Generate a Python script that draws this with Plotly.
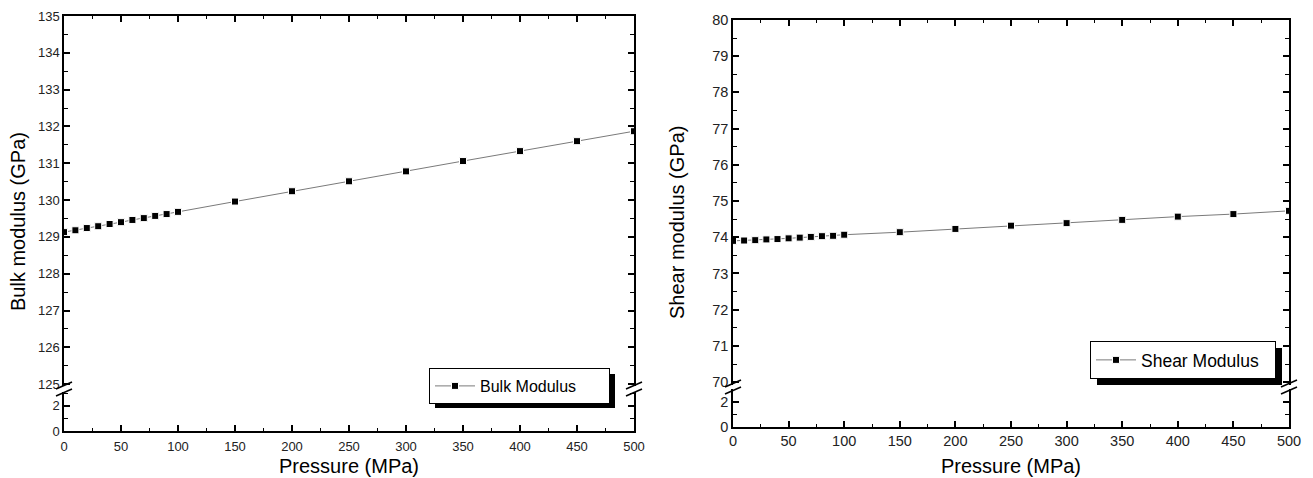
import plotly.graph_objects as go

# ---------------- data ----------------
pressure = [0, 10, 20, 30, 40, 50, 60, 70, 80, 90, 100,
            150, 200, 250, 300, 350, 400, 450, 500]
bulk_modulus = [129.13, 129.18, 129.24, 129.29, 129.35, 129.40, 129.46, 129.51,
                129.57, 129.62, 129.68, 129.96, 130.24, 130.51, 130.78, 131.06,
                131.33, 131.60, 131.87]
shear_modulus = [73.90, 73.91, 73.92, 73.94, 73.95, 73.97, 73.99, 74.01,
                 74.03, 74.04, 74.07, 74.14, 74.23, 74.32, 74.39, 74.48,
                 74.57, 74.64, 74.73]

x_ticks = [0, 50, 100, 150, 200, 250, 300, 350, 400, 450, 500]
bulk_ticks = list(range(125, 136))
shear_ticks = list(range(70, 81))
lower_ticks = [0, 2]

# page body has an 8px margin: figure is sized to fit the remaining window
OFF = 8
W, H = 1313 - OFF, 478 - OFF
def px(v): return (v - OFF) / W
def py(v): return 1 - (v - OFF) / H

FONT = "Liberation Sans, Arial, sans-serif"
TICKC = "#222222"

fig = go.Figure()

line_style = dict(color="#7a7a7a", width=1)
marker_style = dict(symbol="square", size=7, color="black",
                    line=dict(color="white", width=1))

fig.add_trace(go.Scatter(x=pressure, y=bulk_modulus, mode="lines+markers",
                         name="Bulk Modulus", xaxis="x", yaxis="y",
                         line=line_style, marker=marker_style, legend="legend"))
fig.add_trace(go.Scatter(x=pressure, y=shear_modulus, mode="lines+markers",
                         name="Shear Modulus", xaxis="x2", yaxis="y3",
                         line=line_style, marker=marker_style, legend="legend2"))
# empty traces so that the broken-axis segments and top axes form their own subplots
for xa, ya in (("x", "y2"), ("x2", "y4"), ("x3", "y"), ("x4", "y3")):
    fig.add_trace(go.Scatter(x=[], y=[], xaxis=xa, yaxis=ya, showlegend=False, hoverinfo="skip"))

def xaxis(domain, anchor, fs, show_labels=True, side="bottom", matches=None, standoff=0):
    d = dict(domain=domain, anchor=anchor, range=[0, 500], side=side,
             showline=True, linecolor="black", linewidth=1.5,
             ticks="inside", ticklen=6, tickwidth=1.5, tickcolor="black",
             tickvals=x_ticks, showticklabels=show_labels, ticklabelstandoff=standoff,
             tickfont=dict(family=FONT, size=fs, color=TICKC),
             minor=dict(ticks="inside", ticklen=3, tickwidth=1.2, tickcolor="black",
                        dtick=25, tick0=0, showgrid=False),
             showgrid=False, zeroline=False, automargin=False)
    if matches:
        d["matches"] = matches
        d["overlaying"] = matches
    return d

def yaxis(domain, rng, anchor, fs, tickvals, minor_dtick, minor_tick0):
    return dict(domain=domain, anchor=anchor, range=rng,
                showline=True, linecolor="black", linewidth=1.5, mirror="ticks",
                ticks="inside", ticklen=6, tickwidth=1.5, tickcolor="black",
                tickvals=tickvals,
                tickfont=dict(family=FONT, size=fs, color=TICKC),
                minor=dict(ticks="inside", ticklen=4, tickwidth=1.2, tickcolor="black",
                           dtick=minor_dtick, tick0=minor_tick0, showgrid=False),
                showgrid=False, zeroline=False, automargin=False)

L_dom = [px(64), px(634)]
R_dom = [px(733), px(1289)]

fig.update_layout(
    width=W, height=H,
    margin=dict(l=0, r=0, t=0, b=0),
    paper_bgcolor="white", plot_bgcolor="white",
    # left panel
    xaxis=xaxis(L_dom, "y2", 13, standoff=3),
    xaxis3=xaxis(L_dom, "y", 12, show_labels=False, side="top", matches="x"),
    yaxis=yaxis([py(386), py(16)], [124.95, 135], "x", 13, bulk_ticks, 0.5, 125),
    yaxis2=yaxis([py(431), py(392)], [0, 3.1], "x", 13, lower_ticks, 1, 0),
    # right panel
    xaxis2=xaxis(R_dom, "y4", 14.5),
    xaxis4=xaxis(R_dom, "y3", 12, show_labels=False, side="top", matches="x2"),
    yaxis3=yaxis([py(385), py(20)], [69.92, 80], "x2", 14.5, shear_ticks, 0.5, 70),
    yaxis4=yaxis([py(427), py(389)], [0, 3.04], "x2", 14.5, lower_ticks, 1, 0),
    legend=dict(x=px(429), y=py(368), xanchor="left", yanchor="top",
                bgcolor="white", bordercolor="black", borderwidth=1,
                font=dict(family=FONT, size=16, color="black"),
                orientation="h", entrywidth=124, itemwidth=40),
    legend2=dict(x=px(1090), y=py(341), xanchor="left", yanchor="top",
                 bgcolor="white", bordercolor="black", borderwidth=1,
                 font=dict(family=FONT, size=17.5, color="black"),
                 orientation="h", entrywidth=129, itemwidth=40),
    showlegend=True,
)

# axis titles
title_font = dict(family=FONT, size=20, color="black")
ann = [
    dict(text="Pressure (MPa)", x=px(349), y=py(466), xref="paper", yref="paper",
         showarrow=False, font=title_font, xanchor="center", yanchor="middle"),
    dict(text="Pressure (MPa)", x=px(1011), y=py(466), xref="paper", yref="paper",
         showarrow=False, font=title_font, xanchor="center", yanchor="middle"),
    dict(text="Bulk modulus (GPa)", x=px(18), y=py(222), xref="paper", yref="paper",
         showarrow=False, font=title_font, textangle=-90, xanchor="center", yanchor="middle"),
    dict(text="Shear modulus (GPa)", x=px(677), y=py(222), xref="paper", yref="paper",
         showarrow=False, font=title_font, textangle=-90, xanchor="center", yanchor="middle"),
]
fig.update_layout(annotations=ann)

shapes = []
# legend shadows
shapes.append(dict(type="rect", xref="paper", yref="paper",
                   x0=px(435), x1=px(615), y0=py(408), y1=py(374),
                   fillcolor="black", line=dict(width=0), layer="above"))
shapes.append(dict(type="rect", xref="paper", yref="paper",
                   x0=px(1097), x1=px(1282), y0=py(385), y1=py(348),
                   fillcolor="black", line=dict(width=0), layer="above"))

# axis break marks
def brk(xc, yc):
    out = []
    for dy in (-3.5, 3.5):
        out.append(dict(type="line", xref="paper", yref="paper",
                        x0=px(xc - 8), y0=py(yc + dy + 3.5), x1=px(xc + 8), y1=py(yc + dy - 3.5),
                        line=dict(color="black", width=1.5), layer="above"))
    return out

shapes += brk(64, 389) + brk(634, 389) + brk(733, 387) + brk(1289, 387)
fig.update_layout(shapes=shapes)

fig.write_html("out.html")
